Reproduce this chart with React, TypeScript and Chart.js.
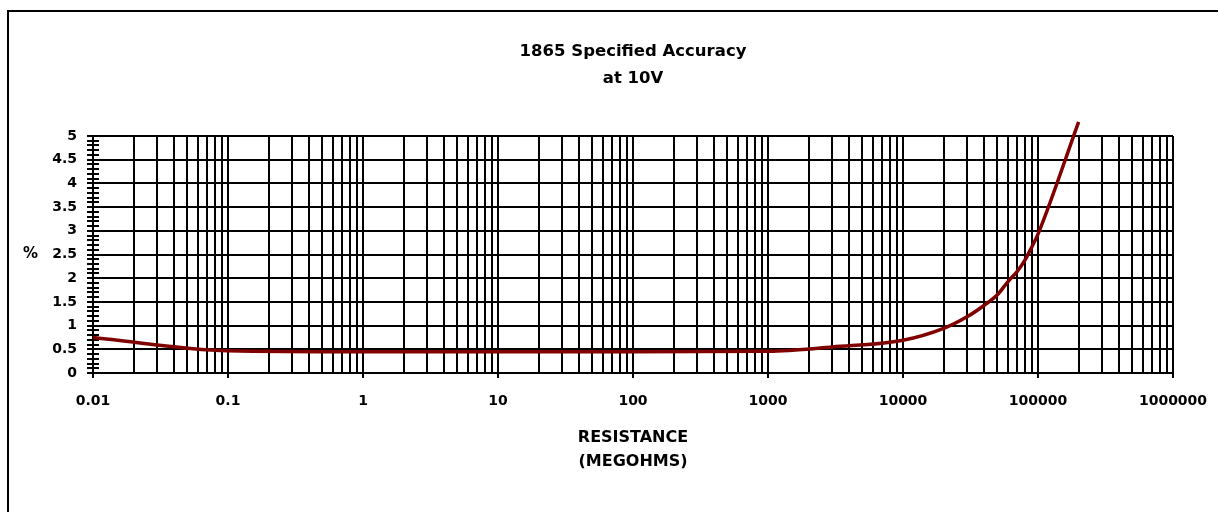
import React, { useEffect, useRef } from 'react';
import { Chart, registerables } from 'chart.js';

Chart.register(...registerables);

// ---- data ----
const resistance = [0.01, 0.1, 1, 10, 100, 1000, 3000, 10000, 20000, 30000, 40000, 50000, 60000, 70000, 80000, 90000, 100000, 200000];
const accuracy = [0.75, 0.47, 0.45, 0.45, 0.45, 0.46, 0.55, 0.69, 0.94, 1.19, 1.43, 1.65, 1.93, 2.14, 2.38, 2.66, 2.93, 5.3];

const xDecades = [0.01, 0.1, 1, 10, 100, 1000, 10000, 100000, 1000000];
const xTickLabels = ['0.01', '0.1', '1', '10', '100', '1000', '10000', '100000', '1000000'];
const yTickLabels = ['0', '0.5', '1', '1.5', '2', '2.5', '3', '3.5', '4', '4.5', '5'];
const titleLines = ['1865 Specified Accuracy', 'at 10V'];
const xTitleLines = ['RESISTANCE', '(MEGOHMS)'];
const yTitle = '%';
const yMinorStep = 0.1;

const FONT = "'DejaVu Sans', sans-serif";

const extrasPlugin = {
  id: 'extras',
  beforeDatasetsDraw(chart: any) {
    const ctx = chart.ctx;
    const ys = chart.scales.y;
    const x0 = Math.round(ys.right);
    ctx.save();
    ctx.strokeStyle = '#000';
    ctx.lineWidth = 2;
    ctx.beginPath();
    const n = Math.round((ys.max - ys.min) / yMinorStep);
    for (let i = 0; i <= n; i++) {
      const v = ys.min + i * yMinorStep;
      const py = Math.round(ys.getPixelForValue(v));
      ctx.moveTo(x0 - 6, py);
      ctx.lineTo(x0 + 6, py);
    }
    ctx.stroke();
    ctx.restore();
  },
  afterDraw(chart: any) {
    const ctx = chart.ctx;
    const ca = chart.chartArea;
    ctx.save();
    ctx.fillStyle = '#000';
    ctx.font = `bold 15px ${FONT}`;
    ctx.textAlign = 'center';
    ctx.textBaseline = 'middle';
    ctx.fillText(yTitle, 30.5, (ca.top + ca.bottom) / 2);
    ctx.restore();
  },
};

export default function App() {
  const ref = useRef<HTMLCanvasElement | null>(null);

  useEffect(() => {
    if (!ref.current) return;
    const chart = new Chart(ref.current, {
      type: 'line',
      data: {
        datasets: [
          {
            data: resistance.map((r, i) => ({ x: r, y: accuracy[i] })),
            borderColor: '#800000',
            borderWidth: 3.5,
            pointRadius: 0,
            fill: false,
            tension: 0.4,
            cubicInterpolationMode: 'monotone',
            clip: false,
          } as any,
        ],
      },
      options: {
        animation: false,
        responsive: false,
        maintainAspectRatio: false,
        layout: { padding: { top: 0, right: 45, bottom: 0, left: 0 } },
        plugins: {
          legend: { display: false },
          tooltip: { enabled: false },
          title: {
            display: true,
            text: titleLines,
            fullSize: false,
            color: '#000',
            font: { family: FONT, size: 16.5, weight: 'bold', lineHeight: 26.6 / 16.5 },
            padding: { top: 38.4, bottom: 44.4 },
          },
        },
        scales: {
          x: {
            type: 'logarithmic',
            position: 'bottom',
            min: xDecades[0],
            max: xDecades[xDecades.length - 1],
            afterBuildTicks: (scale: any) => {
              const t: any[] = [];
              for (let d = 0; d < xDecades.length; d++) {
                const base = xDecades[d];
                for (let m = 1; m <= 9; m++) {
                  if (d === xDecades.length - 1 && m > 1) break;
                  t.push({ value: parseFloat((m * base).toPrecision(6)), major: m === 1, decade: d });
                }
              }
              scale.ticks = t;
            },
            afterFit: (scale: any) => {
              scale.height = 139;
              scale.paddingLeft = 0;
              scale.paddingRight = 0;
            },
            ticks: {
              autoSkip: false,
              maxRotation: 0,
              minRotation: 0,
              color: '#000',
              padding: 15,
              font: { family: FONT, size: 14, weight: 'bold' },
              callback: function (this: any, value: any, index: number, ticks: any[]) {
                const tk = ticks[index];
                return tk && tk.major ? xTickLabels[tk.decade] : '';
              },
            },
            grid: {
              color: '#000',
              lineWidth: 2,
              drawTicks: true,
              tickLength: 5,
              tickWidth: 2,
              tickColor: (c: any) => (c.tick && c.tick.major ? '#000' : 'rgba(0,0,0,0)'),
            },
            border: { color: '#000', width: 2 },
            title: {
              display: true,
              text: xTitleLines,
              color: '#000',
              font: { family: FONT, size: 16, weight: 'bold', lineHeight: 1.5 },
              padding: { top: 0, bottom: 38 },
            },
          },
          y: {
            type: 'linear',
            min: 0,
            max: 5,
            afterFit: (scale: any) => {
              scale.width = 93;
              scale.paddingTop = 0;
              scale.paddingBottom = 0;
            },
            ticks: {
              stepSize: 0.5,
              color: '#000',
              padding: 16,
              font: { family: FONT, size: 14, weight: 'bold' },
              callback: (_v: any, i: number) => yTickLabels[i],
            },
            grid: { color: '#000', lineWidth: 2, drawTicks: false },
            border: { color: '#000', width: 2 },
          },
        },
      } as any,
      plugins: [extrasPlugin],
    });
    return () => chart.destroy();
  }, []);

  return (
    <div style={{ position: 'fixed', left: 0, top: 0, width: 1218, height: 512, background: '#fff', overflow: 'hidden' }}>
      <div
        style={{
          position: 'absolute',
          left: 7,
          top: 10,
          width: 1220,
          height: 600,
          border: '2px solid #000',
          boxSizing: 'border-box',
        }}
      />
      <canvas ref={ref} width={1218} height={512} style={{ position: 'absolute', left: 0, top: 0, display: 'block' }} />
    </div>
  );
}
